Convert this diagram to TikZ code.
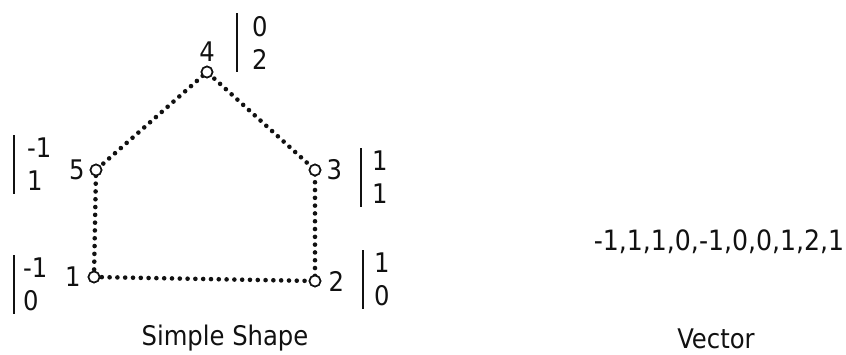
\documentclass[tikz,border=0pt]{standalone}
\usepackage{fontspec}
\setmainfont{DejaVu Sans Condensed}
\usetikzlibrary{positioning}
\definecolor{ink}{HTML}{111111}

\tikzset{
  vertex/.style={circle, draw=ink, fill=white, line width=1.6pt, minimum size=11pt, inner sep=0pt},
  edge/.style={draw=ink, line width=4.6pt, line cap=round, dash pattern=on 0pt off 7.8pt},
  idx/.style={text=ink, inner sep=1pt},
  vec/.style={text=ink, align=left, inner xsep=11pt, inner ysep=3pt},
  bar/.style={draw=ink, line width=1.6pt},
  caption/.style={text=ink}
}

\begin{document}
\begin{tikzpicture}[x=1pt, y=-1pt, font=\fontsize{27}{33}\selectfont]
        \useasboundingbox (0,0) rectangle (846,354);

        % corners of the shape
        \node[vertex] (p1) at (94,277) {};
        \node[vertex] (p2) at (315,281) {};
        \node[vertex] (p3) at (315,170) {};
        \node[vertex] (p4) at (207,72) {};
        \node[vertex] (p5) at (96,170) {};

        \path[edge] (p1.center) -- (p2.center) -- (p3.center) -- (p4.center) -- (p5.center) -- cycle;
        \node[vertex] at (p1) {};
        \node[vertex] at (p2) {};
        \node[vertex] at (p3) {};
        \node[vertex] at (p4) {};
        \node[vertex] at (p5) {};

        % numbers
        \node[idx, left=6pt of p1] (n1) {1};
        \node[idx, right=6pt of p2] (n2) {2};
        \node[idx, right=4pt of p3] (n3) {3};
        \node[idx, above=3pt of p4] (n4) {4};
        \node[idx, left=4pt of p5] (n5) {5};

        % coordinates
        \node[vec, anchor=north west, inner xsep=9pt] (v1) at (14,255) {-1\\0};
        \node[vec, anchor=north west] (v2) at (363,250) {1\\0};
        \node[vec, anchor=north west] (v3) at (361,148) {1\\1};
        \node[vec, anchor=north west, inner xsep=15pt] (v4) at (237,13) {0\\2};
        \node[vec, anchor=north west, inner xsep=13pt] (v5) at (14,135) {-1\\1};
        \foreach \v in {v1,v2,v3,v4,v5}
          \draw[bar] (\v.north west) -- (\v.south west);

        \node[text=ink, font=\fontsize{28}{33}\selectfont] (flat) at (719,242) {-1,1,1,0,-1,0,0,1,2,1};

        \node[caption] (cap1) at (225,338) {Simple Shape};
        \node[caption] (cap2) at (716,339) {Vector};
      \end{tikzpicture}
\end{document}
